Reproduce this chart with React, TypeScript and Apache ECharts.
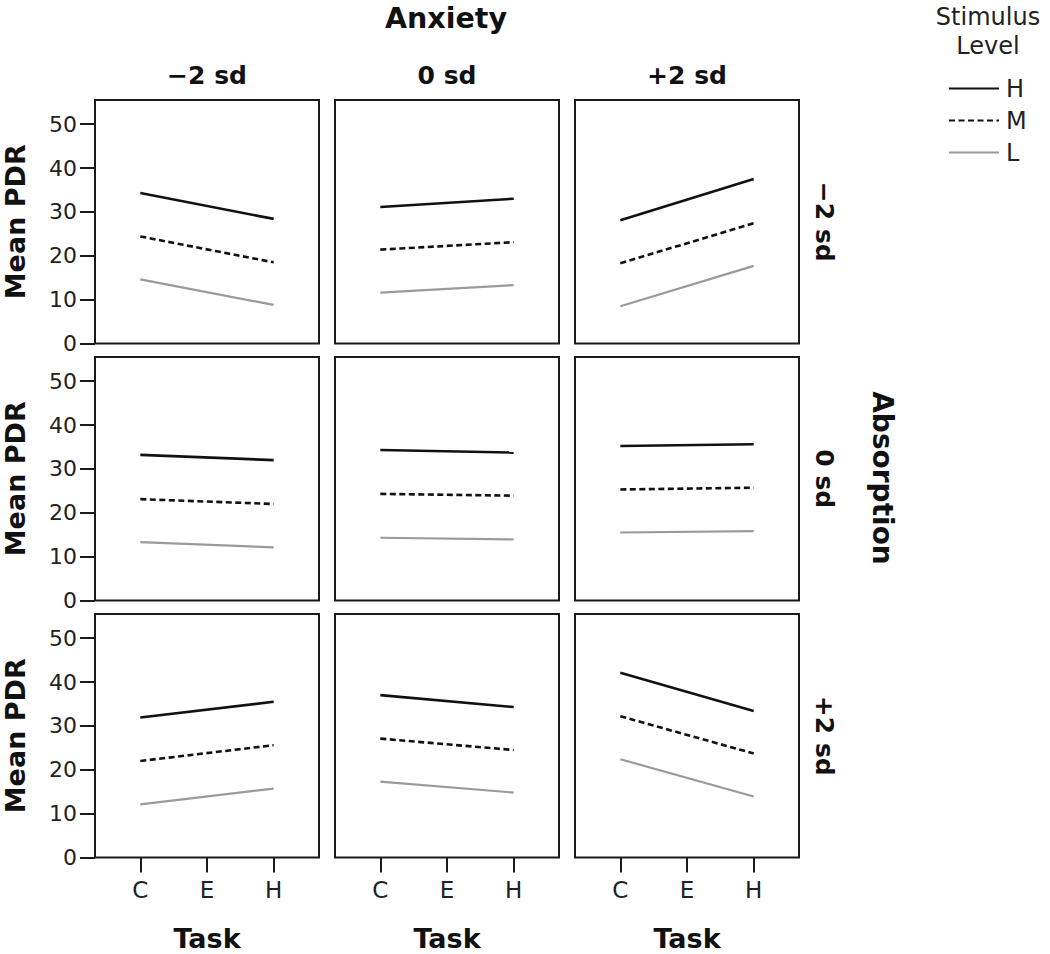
import React, { useEffect, useRef } from "react";
import * as echarts from "echarts";

// Task categories on the x axis (only C and H carry plotted endpoints)
const tasks = ["C", "E", "H"];
const taskPos = [1, 2, 3];
const anxietyLevels = ["−2 sd", "0 sd", "+2 sd"]; // columns
const absorptionLevels = ["−2 sd", "0 sd", "+2 sd"]; // rows
const stimulusLevels = ["H", "M", "L"];
const yTicks = [0, 10, 20, 30, 40, 50];

// Mean PDR per panel (row-major: absorption row, anxiety column), at Task C and Task H
const highAtC = [34.3, 31.1, 28.1, 33.2, 34.3, 35.2, 31.9, 37.0, 42.1];
const highAtH = [28.4, 33.0, 37.5, 32.0, 33.7, 35.6, 35.5, 34.3, 33.4];
const medAtC = [24.4, 21.4, 18.3, 23.1, 24.3, 25.3, 22.0, 27.1, 32.2];
const medAtH = [18.5, 23.1, 27.4, 22.0, 23.9, 25.7, 25.6, 24.5, 23.7];
const lowAtC = [14.6, 11.6, 8.5, 13.3, 14.3, 15.5, 12.1, 17.3, 22.4];
const lowAtH = [8.8, 13.3, 17.7, 12.1, 13.9, 15.8, 15.7, 14.8, 13.9];

const FONT = "DejaVu Sans";
const INK = "#1a1a1a";

export default function App() {
  const ref = useRef<HTMLDivElement>(null);

  useEffect(() => {
    if (!ref.current) return;
    const chart = echarts.init(ref.current, undefined, { renderer: "svg" });

    const colLeft = [95, 335, 575];
    const rowTop = [100, 357, 614];
    const W = 224;
    const H = 243.5;

    const grids: any[] = [];
    const xAxes: any[] = [];
    const yAxes: any[] = [];
    const series: any[] = [];

    const stimData = [
      { name: stimulusLevels[0], c: highAtC, h: highAtH, color: "#111111", width: 2.6, type: "solid" },
      { name: stimulusLevels[1], c: medAtC, h: medAtH, color: "#111111", width: 2.6, type: [6, 3.5] },
      { name: stimulusLevels[2], c: lowAtC, h: lowAtH, color: "#9a9a9a", width: 2.2, type: "solid" },
    ];

    for (let r = 0; r < 3; r++) {
      for (let c = 0; c < 3; c++) {
        const i = r * 3 + c;
        grids.push({
          left: colLeft[c],
          top: rowTop[r],
          width: W,
          height: H,
          show: true,
          borderColor: INK,
          borderWidth: 2,
          backgroundColor: "#fff",
        });
        const bottomRow = r === 2;
        xAxes.push({
          gridIndex: i,
          type: "value",
          min: 0.32,
          max: 3.68,
          show: bottomRow,
          axisLine: { show: false },
          splitLine: { show: false },
          axisTick: {
            show: true,
            customValues: taskPos,
            length: 15,
            lineStyle: { color: INK, width: 2 },
          },
          axisLabel: {
            customValues: taskPos,
            formatter: (v: number) => tasks[Math.round(v) - 1] ?? "",
            fontFamily: FONT,
            fontSize: 23,
            color: "#222",
            margin: 21,
          },
          name: bottomRow ? "Task" : "",
          nameLocation: "middle",
          nameGap: 67,
          nameTextStyle: { fontFamily: FONT, fontSize: 27, fontWeight: "bold", color: "#111" },
        });
        const firstCol = c === 0;
        yAxes.push({
          gridIndex: i,
          type: "value",
          min: 0,
          max: 55.5,
          show: firstCol,
          axisLine: { show: false },
          splitLine: { show: false },
          axisTick: {
            show: true,
            customValues: yTicks,
            length: 15,
            lineStyle: { color: INK, width: 2 },
          },
          axisLabel: {
            customValues: yTicks,
            fontFamily: FONT,
            fontSize: 22,
            color: "#222",
            margin: 18,
          },
          name: firstCol ? "Mean PDR" : "",
          nameLocation: "middle",
          nameGap: 66,
          nameTextStyle: { fontFamily: FONT, fontSize: 27, fontWeight: "bold", color: "#111" },
        });
        for (const s of stimData) {
          series.push({
            type: "line",
            name: s.name,
            xAxisIndex: i,
            yAxisIndex: i,
            symbol: "none",
            data: [
              [taskPos[0], s.c[i]],
              [taskPos[2], s.h[i]],
            ],
            lineStyle: { color: s.color, width: s.width, type: s.type },
            itemStyle: { color: s.color },
          });
        }
      }
    }

    const headerStyle = (text: string) => ({
      text,
      fontFamily: FONT,
      fontSize: 25,
      fontWeight: "bold",
      fill: "#111",
      align: "center",
      verticalAlign: "middle",
    });

    const graphics: any[] = [];
    graphics.push({ type: "text", x: 446, y: 18, style: { ...headerStyle("Anxiety"), fontSize: 28.5 } });
    anxietyLevels.forEach((t, c) => {
      graphics.push({ type: "text", x: colLeft[c] + W / 2, y: 75, style: headerStyle(t) });
    });
    absorptionLevels.forEach((t, r) => {
      graphics.push({
        type: "text",
        x: 824,
        y: rowTop[r] + H / 2,
        rotation: -Math.PI / 2,
        style: headerStyle(t),
      });
    });
    graphics.push({
      type: "text",
      x: 882,
      y: 478,
      rotation: -Math.PI / 2,
      style: { ...headerStyle("Absorption"), fontSize: 28 },
    });
    graphics.push({
      type: "text",
      x: 988,
      y: 17,
      style: { text: "Stimulus", fontFamily: FONT, fontSize: 24, fill: "#222", align: "center", verticalAlign: "middle" },
    });
    graphics.push({
      type: "text",
      x: 988,
      y: 46,
      style: { text: "Level", fontFamily: FONT, fontSize: 24, fill: "#222", align: "center", verticalAlign: "middle" },
    });

    chart.setOption({
      animation: false,
      backgroundColor: "#fff",
      grid: grids,
      xAxis: xAxes,
      yAxis: yAxes,
      series,
      legend: {
        data: stimulusLevels,
        orient: "vertical",
        left: 948,
        top: 76.5,
        padding: 0,
        itemWidth: 50,
        itemHeight: 14,
        itemGap: 8,
        selectedMode: false,
        itemStyle: { opacity: 0 },
        textStyle: { fontFamily: FONT, fontSize: 24, color: "#222", lineHeight: 23, padding: [0, 0, 0, 2] },
      },
      graphic: graphics,
    });

    return () => chart.dispose();
  }, []);

  return (
    <div
      ref={ref}
      style={{ position: "fixed", left: 0, top: 0, width: 1050, height: 954, background: "#fff" }}
    />
  );
}
